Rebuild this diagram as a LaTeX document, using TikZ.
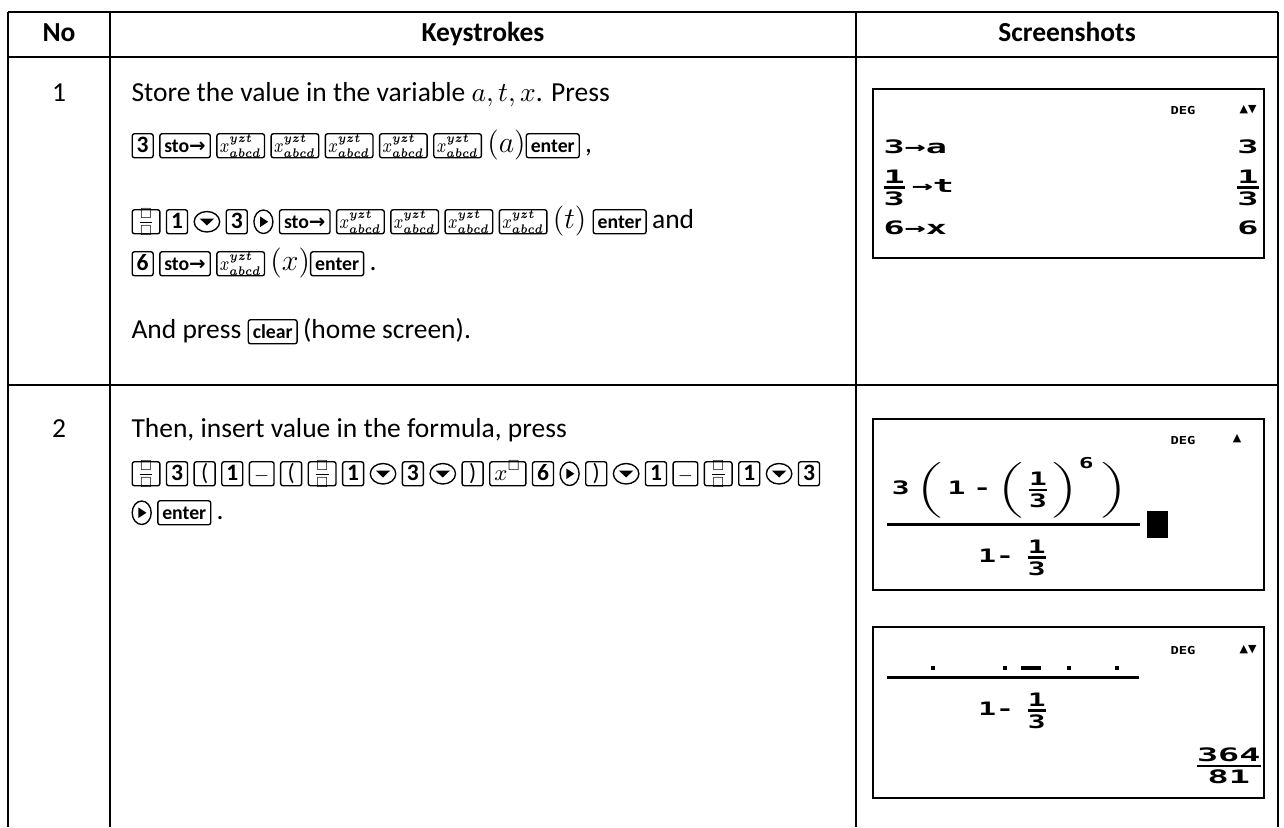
\documentclass[tikz,border=0pt]{standalone}
\usepackage{fontspec}
\usepackage{amsmath,amssymb,bm}
\usepackage{graphicx}
\setmainfont{Carlito}
\newfontfamily\symfont{DejaVu Sans}
\newfontfamily\lcdfont{DejaVu Sans Mono}

\tikzset{
  tableline/.style={line width=0.8pt},
  cellhead/.style={font=\bfseries\fontsize{11}{13}\selectfont, anchor=base, inner sep=0pt},
  cellnum/.style={font=\fontsize{11}{13}\selectfont, anchor=base, inner sep=0pt},
  celltext/.style={font=\fontsize{11}{13}\selectfont, anchor=base west, inner sep=0pt},
  keybox/.style={draw, line width=0.55pt, rounded corners=0.9pt, anchor=base,
    inner xsep=1.8pt, inner ysep=0.3pt, minimum width=8.4pt,
    text height=7pt, text depth=2pt, font=\bfseries\fontsize{9.4}{10}\selectfont},
  screen/.style={line width=0.7pt},
  lcdbar/.style={line width=1.2pt},
  lcdtext/.style={inner sep=0pt, font=\fontsize{7.4}{8}\selectfont},
}

% calculator keys
\newcommand\kgap{\hspace{2.1pt}}
\newcommand\ky[2][]{\tikz[baseline=(k.base)]\node[keybox,#1](k){#2};\kgap}
\newcommand\kword[1]{\ky{\fontsize{7.9}{8}\selectfont #1}}
\newcommand\kx{\ky[inner xsep=1.2pt]{\mdseries\fontsize{7.6}{8}\selectfont\scalebox{0.8}[1]{$x^{\bm{yzt}}_{\bm{abcd}}$}}}
\newcommand\kxsq{\ky{\mdseries\fontsize{9.4}{10}\selectfont$x^{\scriptscriptstyle\square}$}}
\newcommand\kfrac{\ky{$\frac{\scriptscriptstyle\square}{\scriptscriptstyle\square}$}}
\newcommand\kminus{\ky{\fontsize{7}{8}\selectfont$-$}}
\newcommand\kdown{\tikz[baseline=0pt,x=1pt,y=1pt]{\draw[line width=0.55pt] (0,2.5) ellipse (5.1pt and 4.1pt);
  \fill (-2.9,3.8) -- (2.9,3.8) -- (0,1) -- cycle;}\kgap}
\newcommand\kright{\tikz[baseline=0pt,x=1pt,y=1pt]{\draw[line width=0.55pt] (0,2.5) ellipse (3.8pt and 4.7pt);
  \fill (-1.3,4.6) -- (-1.3,0.4) -- (1.9,2.5) -- cycle;}\kgap}
\newcommand\stokey{\kword{sto{\symfont→}}}
\newcommand\mvar[1]{{\fontsize{11.5}{12}\selectfont$(#1)$}}

% screen text
\newcommand\lcd[2][1.6]{\scalebox{#1}[1]{\lcdfont\bfseries\nulldelimiterspace=0pt #2}}
\newcommand\lfr[2]{\genfrac{}{}{1.1pt}{}{\hbox{#1}}{\hbox{#2}}}
\newcommand\lcdL[1]{\left(\vcenter to #1{}\right.}
\newcommand\lcdR[1]{\left.\vcenter to #1{}\right)}
\newcommand\lcddeg{\scalebox{1.25}[1]{\lcdfont\bfseries\fontsize{4.4}{5}\selectfont DEG}}
\newcommand\lcdarr[1]{{\symfont\fontsize{4.4}{5}\selectfont #1}}

\begin{document}
\begin{tikzpicture}[x=0.4pt, y=-0.4pt]
\useasboundingbox (0,0) rectangle (1284,827);

% table rules
\draw[tableline] (8,12) -- (1278,12);
\draw[tableline] (8,57) -- (1278,57);
\draw[tableline] (8,385) -- (1278,385);
\foreach \cx in {8,110,856,1278}
  \draw[tableline] (\cx,12) -- (\cx,827);

% header
\node[cellhead] (hdNo) at (59,41) {No};
\node[cellhead] (hdKeys) at (483,41) {Keystrokes};
\node[cellhead] (hdShots) at (1067,41) {Screenshots};

% row 1
\node[cellnum] (rowOne) at (59,101) {1};
\node[celltext] (oneA) at (131,101) {Store the value in the variable $a, t, x$. Press};
\node[celltext] (oneB) at (131,152) {\ky{3}\stokey\kx\kx\kx\kx\kx\mvar{a}\kword{enter},};
\node[celltext] (oneC) at (131,228) {\kfrac\ky{1}\kdown\ky{3}\kright\stokey\kx\kx\kx\kx\mvar{t} \kword{enter}and};
\node[celltext] (oneD) at (131,270) {\ky{6}\stokey\kx\mvar{x}\kword{enter}.};
\node[celltext] (oneE) at (131,338) {And press \kword{clear}(home screen).};

% screenshot 1
\draw[screen] (873,89) rectangle (1264,258);
\node[lcdtext] (degA) at (1183,110) {\lcddeg};
\node[lcdtext] (arrA) at (1248,110) {\lcdarr{▲▼}};
\node[lcdtext, anchor=base west] (scrAa) at (883,153) {\lcd[1.9]{3→a}};
\node[lcdtext, anchor=base east] (scrAaR) at (1259,153) {\lcd[1.9]{3}};
\node[lcdtext, anchor=west] (scrAt) at (883,188) {\lcd[1.9]{$\lfr13$\hspace{1.5pt}→t}};
\node[lcdtext, anchor=east] (scrAtR) at (1259,188) {\lcd[1.9]{$\lfr13$}};
\node[lcdtext, anchor=base west] (scrAx) at (883,234) {\lcd[1.9]{6→x}};
\node[lcdtext, anchor=base east] (scrAxR) at (1259,234) {\lcd[1.9]{6}};

% row 2
\node[cellnum] (rowTwo) at (59,437) {2};
\node[celltext] (twoA) at (131,437) {Then, insert value in the formula, press};
\node[celltext] (twoB) at (131,480) {\kfrac\ky{3}\ky{\mdseries(}\ky{1}\kminus\ky{\mdseries(}\kfrac\ky{1}\kdown\ky{3}\kdown\ky{\mdseries)}\kxsq\ky{6}\kright\ky{\mdseries)}\kdown\ky{1}\kminus\kfrac\ky{1}\kdown\ky{3}};
\node[celltext] (twoC) at (131,519) {\kright\kword{enter}.};

% screenshot 2
\draw[screen] (873,419) rectangle (1264,590);
\node[lcdtext] (degB) at (1183,440) {\lcddeg};
\node[lcdtext] (arrB) at (1237,439) {\lcdarr{▲}};
\node[lcdtext] (numB) at (1010,488) {\lcd{$\hbox{3}\lcdL{23pt}\hbox{1\hspace{2pt}-}\lcdL{21pt}\lfr13\lcdR{21pt}^{\hbox{\fontsize{6}{6}\selectfont 6}}\lcdR{23pt}$}};
\draw[lcdbar] (887,524) -- (1140,524);
\node[lcdtext] (denB) at (1012,558) {\lcd{1-\hspace{3.5pt}$\lfr13$}};
\fill (1147,511) rectangle (1168,538);

% screenshot 3
\draw[screen] (873,627) rectangle (1264,798);
\node[lcdtext] (degC) at (1183,650) {\lcddeg};
\node[lcdtext] (arrC) at (1248,650) {\lcdarr{▲▼}};
\foreach \dx in {933,1005,1069,1117}
  \fill (\dx-2,666) rectangle (\dx+2,670);
\fill (1021,666) rectangle (1041,670);
\draw[lcdbar] (887,677) -- (1139,677);
\node[lcdtext] (denC) at (1012,711) {\lcd{1-\hspace{3.5pt}$\lfr13$}};
\node[lcdtext, anchor=east] (resC) at (1261,766) {\lcd[1.9]{$\genfrac{}{}{1.1pt}{}{\hbox{364}}{\hbox{81}}$}};
\end{tikzpicture}
\end{document}
